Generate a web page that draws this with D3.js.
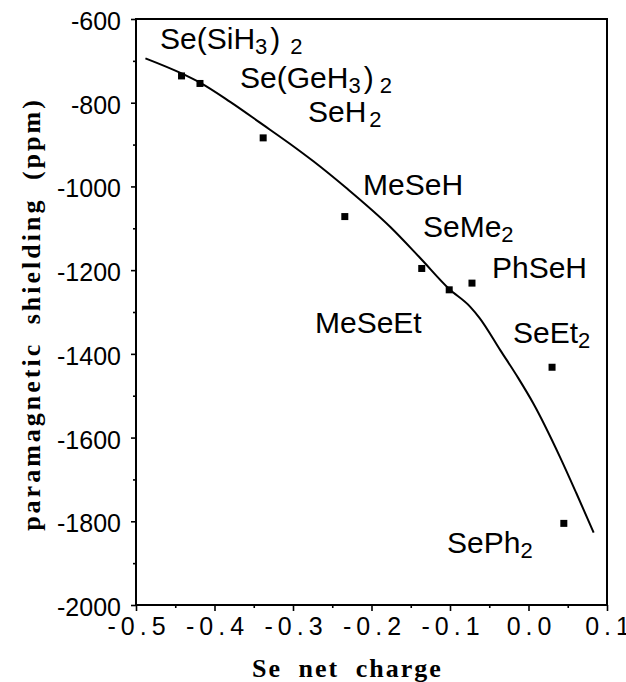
<!DOCTYPE html>
<html><head><meta charset="utf-8">
<script src="https://cdn.jsdelivr.net/npm/d3@7"></script>
<style>body{margin:0;background:#fff}svg{display:block}</style>
</head><body>
<svg id="c" width="626" height="682"></svg>
<script>
// ---- data ----
const compounds = ["Se(SiH3)2","Se(GeH3)2","SeH2","MeSeH","MeSeEt","SeMe2","PhSeH","SeEt2","SePh2"];
const charge    = [-0.442, -0.4185, -0.338, -0.234, -0.136, -0.101, -0.072, 0.030, 0.045];
const shielding = [-736, -754, -884, -1072, -1196, -1247, -1231, -1432, -1805];

const fitCharge    = [-0.488,-0.442,-0.4185,-0.380,-0.338,-0.304,-0.274,-0.232,-0.176,-0.138,-0.101,-0.0745,-0.062,-0.036,-0.013,0.006,0.040,0.061,0.083];
const fitShielding = [-694,-730,-752,-798,-853,-898,-940,-1004,-1097,-1171,-1245,-1287,-1315,-1391,-1458,-1518,-1646,-1733,-1827];

const xTicks = [-0.5,-0.4,-0.3,-0.2,-0.1,0.0,0.1];
const xTickLabels = ["-0.5","-0.4","-0.3","-0.2","-0.1","0.0","0.1"];
const xMinorTicks = [-0.45,-0.35,-0.25,-0.15,-0.05,0.05];
const yTicks = [-600,-800,-1000,-1200,-1400,-1600,-1800,-2000];
const yTickLabels = ["-600","-800","-1000","-1200","-1400","-1600","-1800","-2000"];
const yMinorTicks = [-700,-900,-1100,-1300,-1500,-1700,-1900];

// label annotations (text parts; sub = subscript) and their anchor in data units
const labelParts = [
  [{t:"Se(SiH"},{t:"3",sub:1},{t:")",dx:3},{t:"2",sub:1,dx:10}],
  [{t:"Se(GeH"},{t:"3",sub:1},{t:")",dx:3},{t:"2",sub:1,dx:6}],
  [{t:"SeH"},{t:"2",sub:1,dx:3}],
  [{t:"MeSeH"}],
  [{t:"MeSeEt"}],
  [{t:"SeMe"},{t:"2",sub:1}],
  [{t:"PhSeH"}],
  [{t:"SeEt"},{t:"2",sub:1}],
  [{t:"SePh"},{t:"2",sub:1}]
];
const labelCharge    = [-0.4694,-0.3675,-0.2809,-0.2108,-0.2720,-0.1344,-0.0465,-0.0197,-0.1038];
const labelShielding = [-672,-765,-846,-1020,-1350,-1121,-1219,-1374,-1876];

// ---- chart ----
const svg = d3.select("#c");
const x = d3.scaleLinear().domain([-0.5, 0.1]).range([136, 607]);
const y = d3.scaleLinear().domain([-2000, -600]).range([605, 19]);

// frame
svg.append("rect").attr("x", x(-0.5)).attr("y", y(-600))
  .attr("width", x(0.1)-x(-0.5)).attr("height", y(-2000)-y(-600))
  .attr("fill","none").attr("stroke","#000").attr("stroke-width",2);

// x axis
const gx = svg.append("g").attr("transform",`translate(0,${y(-2000)})`);
gx.call(d3.axisBottom(x).tickValues(xTicks).tickSize(6).tickSizeOuter(0)
  .tickFormat((d,i)=>xTickLabels[i]));
const gxm = svg.append("g").attr("transform",`translate(0,${y(-2000)})`);
gxm.call(d3.axisBottom(x).tickValues(xMinorTicks).tickSize(3).tickSizeOuter(0).tickFormat(""));
[gx,gxm].forEach(g=>{g.select(".domain").remove();
  g.selectAll(".tick line").attr("stroke","#000").attr("stroke-width",1.6);});
gx.selectAll(".tick text")
  .attr("font-family","'Liberation Sans', Arial, sans-serif")
  .attr("font-size",25).attr("fill","#000")
  .attr("letter-spacing","5px").attr("dx","2.5").attr("y",12).attr("dy","0.71em");

// y axis
const gy = svg.append("g").attr("transform",`translate(${x(-0.5)},0)`);
gy.call(d3.axisLeft(y).tickValues(yTicks).tickSize(5).tickSizeOuter(0)
  .tickFormat((d,i)=>yTickLabels[i]));
const gym = svg.append("g").attr("transform",`translate(${x(-0.5)},0)`);
gym.call(d3.axisLeft(y).tickValues(yMinorTicks).tickSize(3).tickSizeOuter(0).tickFormat(""));
[gy,gym].forEach(g=>{g.select(".domain").remove();
  g.selectAll(".tick line").attr("stroke","#000").attr("stroke-width",1.6);});
gy.selectAll(".tick text")
  .attr("font-family","'Liberation Sans', Arial, sans-serif")
  .attr("font-size",25).attr("fill","#000").attr("x",-15).attr("dy","0.42em");

// fitted curve
const fit = fitCharge.map((c,i)=>[c, fitShielding[i]]);
svg.append("path").datum(fit)
  .attr("d", d3.line().curve(d3.curveMonotoneX).x(d=>x(d[0])).y(d=>y(d[1])))
  .attr("fill","none").attr("stroke","#000").attr("stroke-width",2);

// points
svg.append("g").selectAll("rect").data(compounds).join("rect")
  .attr("x",(d,i)=>x(charge[i])-3.5).attr("y",(d,i)=>y(shielding[i])-3.5)
  .attr("width",7).attr("height",7).attr("fill","#000");

// labels
const lab = svg.append("g")
  .attr("font-family","'Liberation Sans', Arial, sans-serif").attr("fill","#000");
labelParts.forEach((parts,i)=>{
  const t = lab.append("text").attr("x", x(labelCharge[i])).attr("y", y(labelShielding[i]))
    .attr("font-size",30);
  let prevSub = false;
  parts.forEach(p=>{
    const s = t.append("tspan").text(p.t);
    let dy = 0;
    if (p.sub && !prevSub) dy = 5;
    if (!p.sub && prevSub) dy = -5;
    if (dy) s.attr("dy", dy);
    if (p.dx) s.attr("dx", p.dx);
    if (p.sub) s.attr("font-size",22);
    prevSub = !!p.sub;
  });
});

// axis titles
svg.append("text").attr("x",252).attr("y",677)
  .attr("font-family","'Liberation Serif','Times New Roman',serif")
  .attr("font-weight","bold").attr("font-size",26)
  .attr("letter-spacing","2px").attr("word-spacing","8px")
  .text("Se net charge");
svg.append("text").attr("transform","translate(40,314) rotate(-90)")
  .attr("text-anchor","middle")
  .attr("font-family","'Liberation Serif','Times New Roman',serif")
  .attr("font-weight","bold").attr("font-size",26)
  .attr("letter-spacing","3px").attr("word-spacing","8px")
  .text("paramagnetic shielding (ppm)");
</script>
</body></html>
